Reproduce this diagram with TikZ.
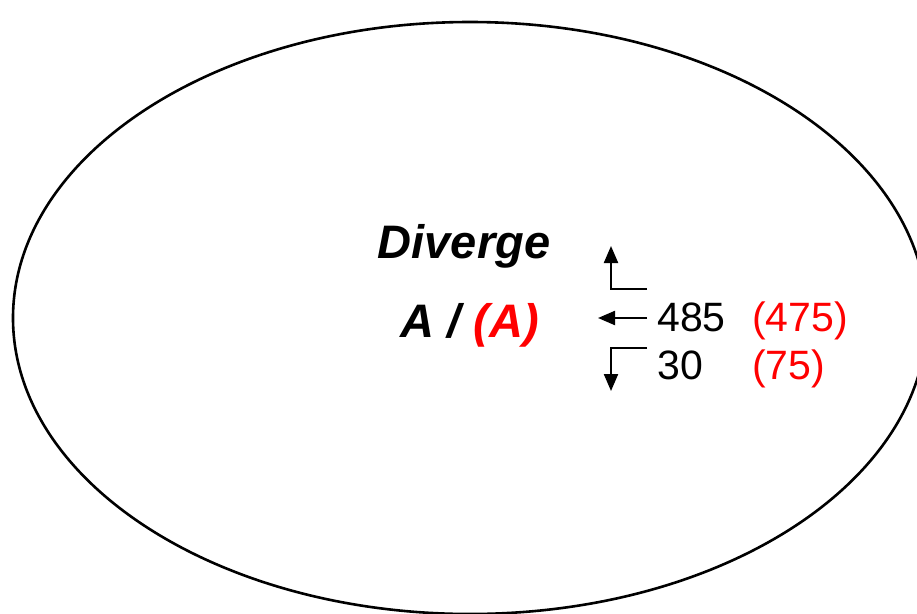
\documentclass[tikz,border=0pt]{standalone}
\usepackage{fontspec}
\setmainfont{Liberation Sans}
\usetikzlibrary{arrows.meta}
\begin{document}
\begin{tikzpicture}[x=1pt,y=-1pt,
  bigtxt/.style={font=\fontsize{47}{47}\selectfont\bfseries\itshape, anchor=base, inner sep=0pt},
  numtxt/.style={font=\fontsize{41}{41}\selectfont, anchor=base west, inner sep=0pt},
  turn/.style={line width=2.2pt, -{Triangle[length=17pt,width=14pt]}}]
\useasboundingbox (0,0) rectangle (917,613);
% outer ellipse, cut at right and bottom
\begin{scope}
\clip (0,0) rectangle (917,613);
\draw[line width=2.6pt] (470,318) ellipse [x radius=457, y radius=296];
\end{scope}
% labels
\node[bigtxt] (diverge) at (464,258) {Diverge};
\node[bigtxt] (allele) at (470,337) {A / \textcolor{red}{(A)}};
% counts
\node[numtxt] (left) at (657,331) {485};
\node[numtxt,text=red] (leftref) at (752,331) {(475)};
\node[numtxt] (down) at (657,379) {30};
\node[numtxt,text=red] (downref) at (752,379) {(75)};
% turn arrows
\coordinate (upstart) at (647,289);
\coordinate (upcorner) at (611,289);
\coordinate (uptip) at (611,246);
\coordinate (leftstart) at (647,318);
\coordinate (lefttip) at (598,318);
\coordinate (downstart) at (647,348);
\coordinate (downcorner) at (611,348);
\coordinate (downtip) at (611,391);
\draw[turn] (upstart) -- (upcorner) -- (uptip);
\draw[turn] (leftstart) -- (lefttip);
\draw[turn] (downstart) -- (downcorner) -- (downtip);
\end{tikzpicture}
\end{document}
